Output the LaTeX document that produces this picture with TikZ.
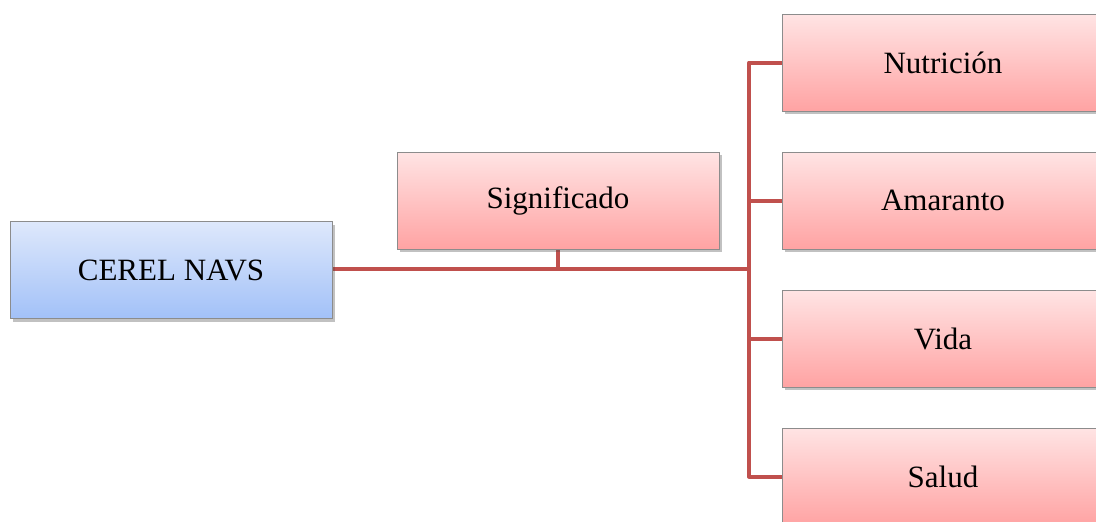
\documentclass[tikz,border=0pt]{standalone}
\usepackage{fontspec}
\setmainfont{Liberation Serif}
\usetikzlibrary{shadows,backgrounds}
\definecolor{linkred}{RGB}{192,80,77}
\definecolor{boxedge}{RGB}{140,140,140}
\definecolor{pinktop}{RGB}{255,228,228}
\definecolor{pinkbot}{RGB}{255,163,163}
\definecolor{bluetop}{RGB}{222,232,251}
\definecolor{bluebot}{RGB}{162,193,248}
\begin{document}
\begin{tikzpicture}[x=1pt,y=-1pt,
  box/.style={draw=boxedge, line width=0.8pt, minimum width=322pt, minimum height=97pt,
    inner sep=0pt, font=\fontsize{31}{36}\selectfont,
    drop shadow={shadow xshift=2.5pt, shadow yshift=-3pt, opacity=0.35, fill=black!70}},
  pinkbox/.style={box, top color=pinktop, bottom color=pinkbot},
  bluebox/.style={box, top color=bluetop, bottom color=bluebot},
  conn/.style={draw=linkred, line width=4pt, line join=round, line cap=butt}]
\useasboundingbox (0,0) rectangle (1096,522);
\clip (0,0) rectangle (1096,522);

\node[bluebox] (cerel) at (171,270) {CEREL NAVS};
\node[pinkbox] (sig) at (558,200.5) {Significado};
\node[pinkbox] (nut) at (943,62.5) {Nutrición};
\node[pinkbox] (ama) at (943,200.5) {Amaranto};
\node[pinkbox] (vida) at (943,338.5) {Vida};
\node[pinkbox] (sal) at (943,476.5) {Salud};

\coordinate (hub) at (749,269);

\begin{scope}[on background layer]
  \draw[conn] (cerel.east |- hub) -- (hub);
  \draw[conn] (sig.south) -- (sig.south |- hub);
  \draw[conn] (nut.west) -| (hub) |- (sal.west);
  \draw[conn] (ama.west) -- (ama.west -| hub);
  \draw[conn] (vida.west) -- (vida.west -| hub);
\end{scope}
\end{tikzpicture}
\end{document}
